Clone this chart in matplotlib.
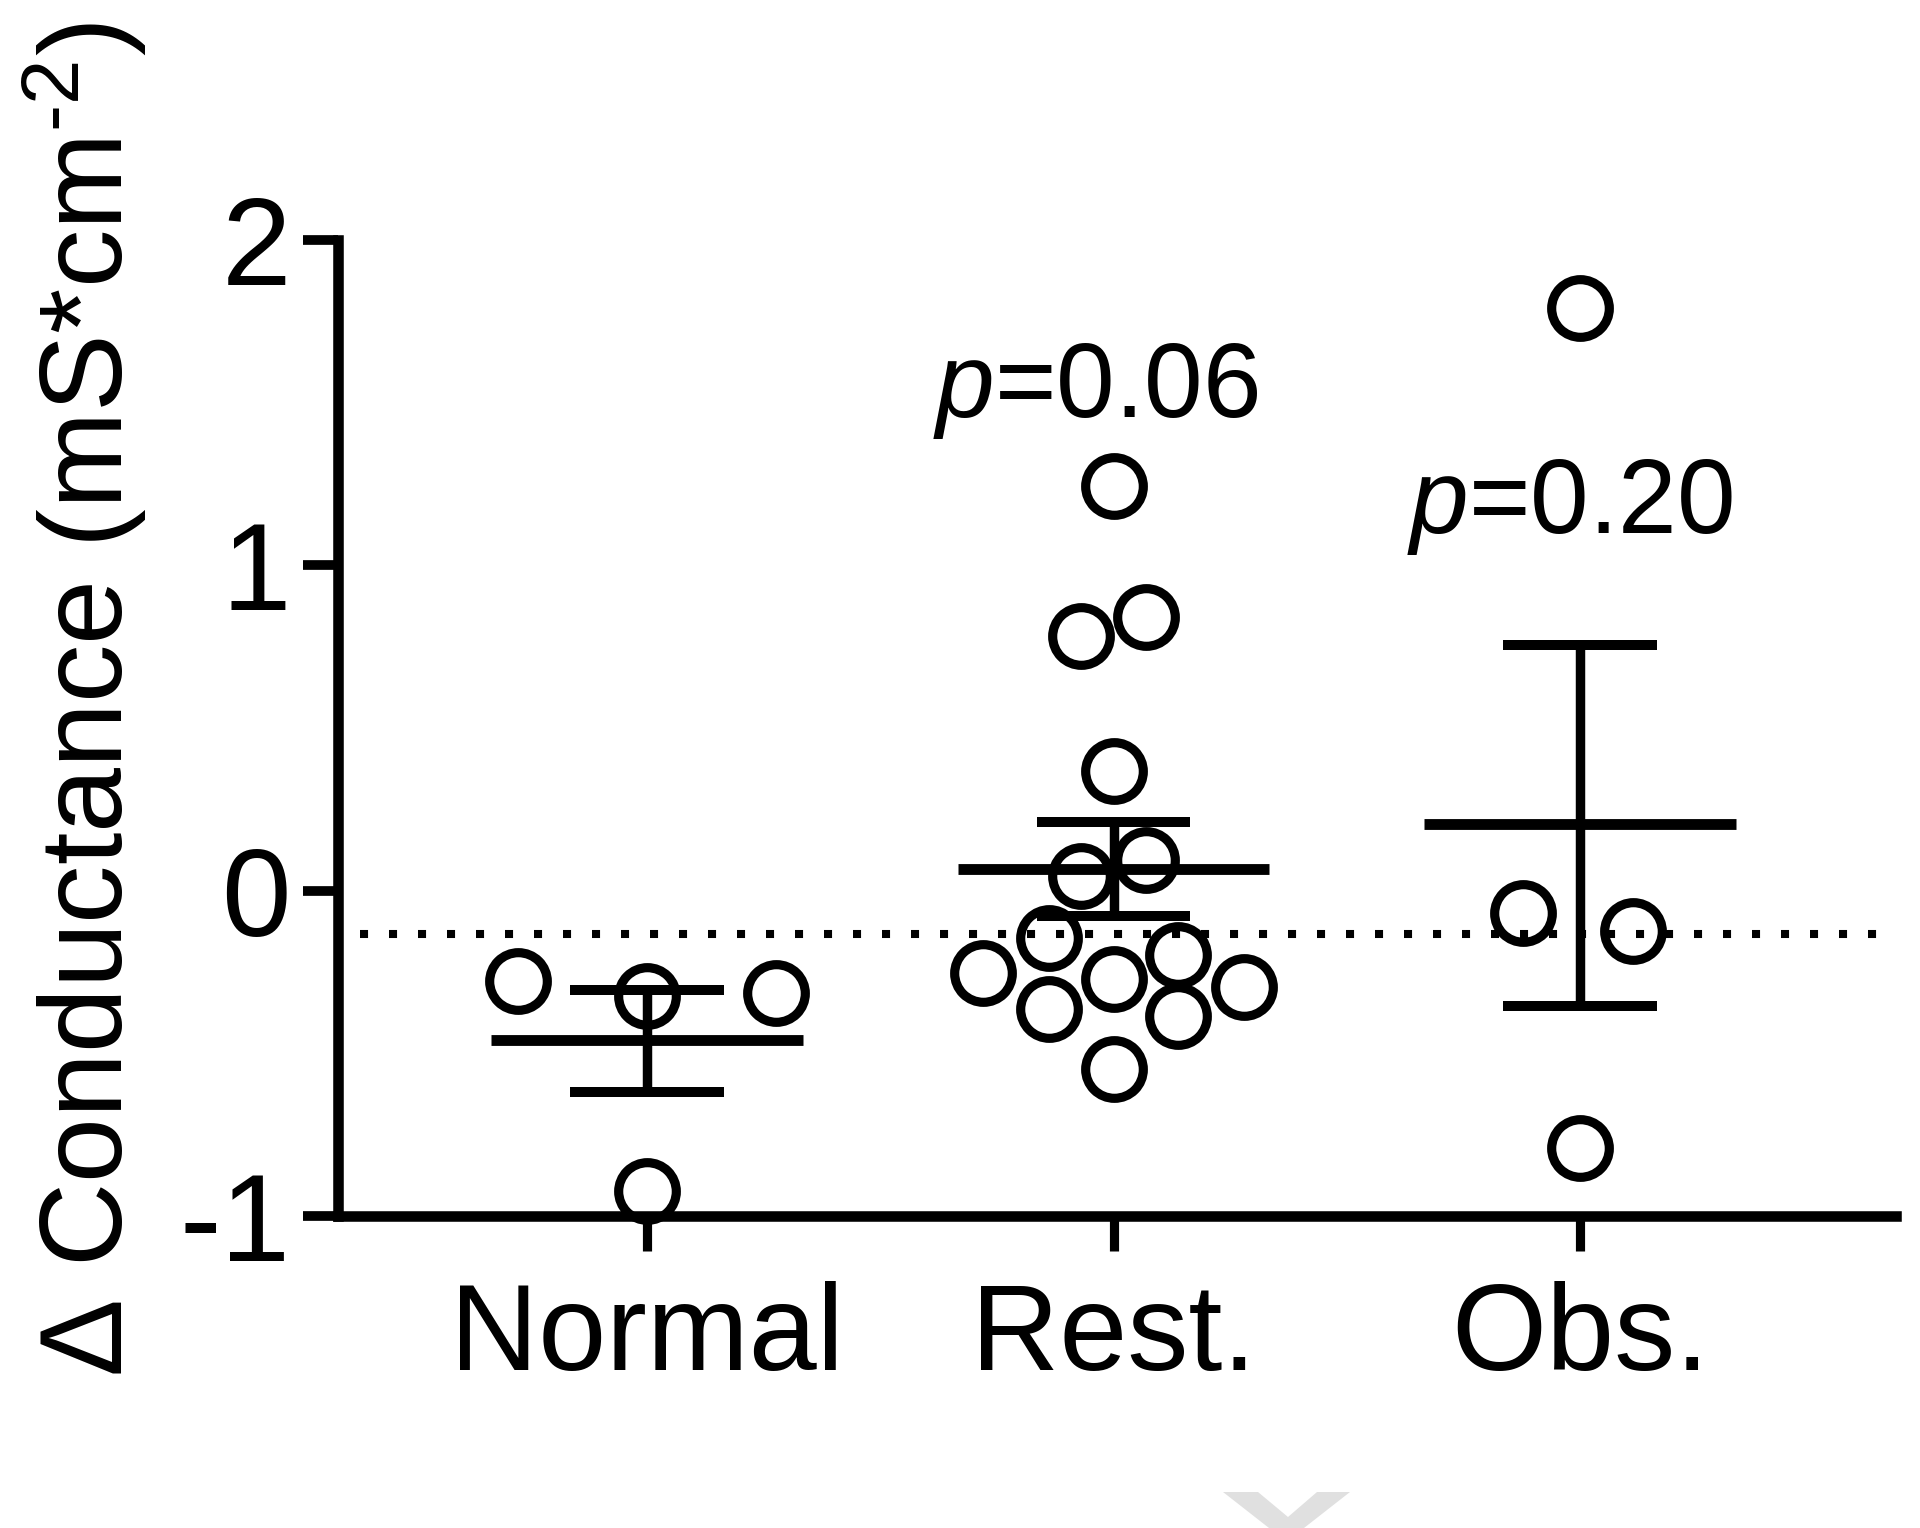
import matplotlib
matplotlib.use('Agg')
import matplotlib.pyplot as plt
from matplotlib.patches import Polygon

plt.rcParams['font.family'] = ['Liberation Sans', 'DejaVu Sans']
plt.rcParams['mathtext.fontset'] = 'custom'
plt.rcParams['mathtext.rm'] = 'Liberation Sans'
plt.rcParams['mathtext.it'] = 'Liberation Sans:italic'
plt.rcParams['mathtext.default'] = 'regular'

# ---------------- data ----------------
categories = ['Normal', 'Rest.', 'Obs.']
normal_vals = [-0.278, -0.324, -0.315, -0.923]
normal_offsets = [-0.277, 0.0, 0.277, 0.0]
rest_vals = [1.244, 0.783, 0.841, 0.368, 0.094, 0.045, -0.145, -0.253,
             -0.272, -0.198, -0.296, -0.364, -0.386, -0.549]
rest_offsets = [0.0, -0.07, 0.07, 0.0, 0.07, -0.07, -0.139, -0.28,
                0.0, 0.139, 0.28, -0.139, 0.139, 0.0]
obs_vals = [1.791, -0.068, -0.124, -0.791]
obs_offsets = [0.0, -0.122, 0.114, 0.0]
means = [-0.459, 0.067, 0.205]
sem_upper = [-0.305, 0.211, 0.755]
sem_lower = [-0.619, -0.078, -0.355]
p_labels = ['$\\it{p}$=0.06', '$\\it{p}$=0.20']
p_label_x = [0.962, 1.979]
p_label_y = [1.456, 1.100]
ref_level = -0.133
yticks = [-1, 0, 1, 2]

groups_vals = [normal_vals, rest_vals, obs_vals]
groups_off = [normal_offsets, rest_offsets, obs_offsets]

# ---------------- figure ----------------
W, H = 1920, 1528
fig = plt.figure(figsize=(W / 100, H / 100), dpi=100)
ax = fig.add_axes([338 / W, 1 - 1216 / H, (1896 - 338) / W, (1216 - 240) / H])

for i, (vals, offs) in enumerate(zip(groups_vals, groups_off)):
    xs = [i + o for o in offs]
    ax.plot(xs, vals, 'o', ms=41.5, mfc='none', mec='black', mew=6.6,
            clip_on=False, zorder=3)

mean_half = 0.334
cap_half = 0.165
for i in range(len(categories)):
    ax.plot([i - mean_half, i + mean_half], [means[i]] * 2, color='black',
            lw=7.8, solid_capstyle='butt', zorder=4)
    ax.plot([i, i], [sem_lower[i], sem_upper[i]], color='black', lw=6.8,
            solid_capstyle='butt', zorder=4)
    for v in (sem_lower[i], sem_upper[i]):
        ax.plot([i - cap_half, i + cap_half], [v, v], color='black', lw=7.2,
                solid_capstyle='butt', zorder=4)

ax.axhline(ref_level, xmin=0.014, xmax=1.0, color='black', lw=5.8,
           linestyle=(0, (1, 2.6)), dash_capstyle='butt', zorder=2)

for txt, x, y in zip(p_labels, p_label_x, p_label_y):
    ax.text(x, y, txt, ha='center', va='baseline', fontsize=76)

ax.set_xlim(-0.662, 2.677)
ax.set_ylim(-1, 2)
ax.set_yticks(yticks)
ax.set_yticklabels([str(t) for t in yticks])
ax.set_xticks(range(len(categories)))
ax.set_xticklabels(categories)

for s in ('top', 'right'):
    ax.spines[s].set_visible(False)
for s in ('left', 'bottom'):
    ax.spines[s].set_linewidth(7.6)
    ax.spines[s].set_capstyle('projecting')

ax.tick_params(axis='y', length=25, width=7, labelsize=90, pad=9,
               direction='out')
ax.tick_params(axis='x', length=25, width=6.6, labelsize=88, pad=22,
               direction='out')

fig.text(85 / W, 1 - 700 / H, 'Δ Conductance (mS*cm$^{\\text{-2}}$)',
         rotation=90, ha='center', va='center', fontsize=84)

# light grey mark at the bottom edge
pts = [(1223, 1492), (1258, 1492), (1288, 1517), (1317, 1492), (1350, 1492),
       (1304, 1528), (1269, 1528)]
fig.add_artist(Polygon([(x / W, 1 - y / H) for x, y in pts], closed=True,
                       transform=fig.transFigure, color='#e0e0e0', lw=0))

fig.savefig('out.png', dpi=100, facecolor='white')
